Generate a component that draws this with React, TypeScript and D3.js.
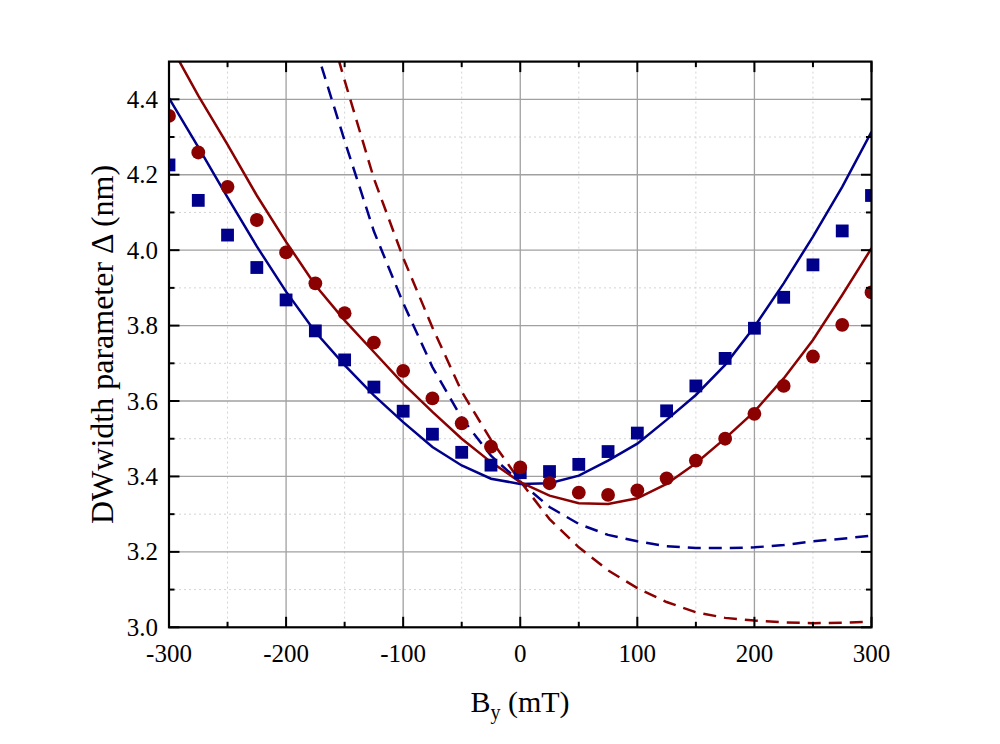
import React from "react";
import * as d3 from "d3";

const fieldB = [-300, -275, -250, -225, -200, -175, -150, -125, -100, -75, -50, -25, 0, 25, 50, 75, 100, 125, 150, 175, 200, 225, 250, 275, 300];
const blueSquares = [4.226, 4.132, 4.040, 3.954, 3.868, 3.786, 3.709, 3.637, 3.573, 3.512, 3.464, 3.430, 3.410, 3.413, 3.432, 3.466, 3.515, 3.574, 3.640, 3.713, 3.793, 3.875, 3.961, 4.051, 4.145];
const redCircles = [4.356, 4.259, 4.168, 4.080, 3.994, 3.912, 3.833, 3.755, 3.680, 3.607, 3.541, 3.479, 3.424, 3.382, 3.357, 3.351, 3.363, 3.395, 3.442, 3.500, 3.566, 3.640, 3.718, 3.802, 3.888];
const blueFit = [4.403, 4.273, 4.140, 4.010, 3.890, 3.783, 3.695, 3.615, 3.544, 3.478, 3.429, 3.394, 3.380, 3.382, 3.402, 3.442, 3.487, 3.550, 3.616, 3.696, 3.797, 3.912, 4.036, 4.168, 4.314];
const redFit = [4.550, 4.410, 4.280, 4.145, 4.022, 3.907, 3.814, 3.730, 3.646, 3.571, 3.500, 3.438, 3.385, 3.349, 3.329, 3.327, 3.342, 3.380, 3.435, 3.501, 3.572, 3.660, 3.762, 3.881, 4.005];

const modelB = [-175, -150, -125, -100, -75, -50, -25, 0, 25, 50, 75, 100, 125, 150, 175, 200, 225, 250, 275, 300];
const blueModel = [4.54, 4.29, 4.05, 3.86, 3.69, 3.555, 3.455, 3.385, 3.319, 3.274, 3.245, 3.228, 3.215, 3.210, 3.210, 3.212, 3.218, 3.228, 3.235, 3.243];
const redModel = [4.72, 4.45, 4.19, 3.98, 3.795, 3.625, 3.497, 3.387, 3.287, 3.212, 3.151, 3.104, 3.067, 3.040, 3.025, 3.018, 3.013, 3.011, 3.012, 3.015];

const xMajor = [-300, -200, -100, 0, 100, 200, 300];
const xMinor = [-250, -150, -50, 50, 150, 250];
const yMajor = [3.0, 3.2, 3.4, 3.6, 3.8, 4.0, 4.2, 4.4];
const yMinor = [3.1, 3.3, 3.5, 3.7, 3.9, 4.1, 4.3];

const BLUE = "#00008B";
const RED = "#8B0000";
const FONT = "'Liberation Serif', 'Times New Roman', serif";

export default function App() {
  const L = 169, R = 871.5, T = 61.6, B = 627.3;
  const x = d3.scaleLinear().domain([-300, 300]).range([L, R]);
  const y = d3.scaleLinear().domain([3.0, 4.5]).range([B, T]);

  const line = d3.line<[number, number]>().x(d => x(d[0])).y(d => y(d[1]));
  const zip = (a: number[], b: number[]) => a.map((v, i) => [v, b[i]] as [number, number]);

  return (
    <div style={{ position: "absolute", left: 0, top: 0 }}>
      <svg width={1000} height={744} style={{ display: "block", background: "#fff" }}>
        <defs>
          <clipPath id="plot">
            <rect x={L} y={T} width={R - L} height={B - T} />
          </clipPath>
        </defs>
        {xMinor.map(v => (
          <line key={"xm" + v} x1={x(v)} x2={x(v)} y1={T} y2={B} stroke="#d4d4d4" strokeWidth={1} strokeDasharray="2,3" />
        ))}
        {yMinor.map(v => (
          <line key={"ym" + v} x1={L} x2={R} y1={y(v)} y2={y(v)} stroke="#d4d4d4" strokeWidth={1} strokeDasharray="2,3" />
        ))}
        {xMajor.slice(1, -1).map(v => (
          <line key={"xg" + v} x1={x(v)} x2={x(v)} y1={T} y2={B} stroke="#a0a0a0" strokeWidth={1.3} />
        ))}
        {yMajor.slice(1).map(v => (
          <line key={"yg" + v} x1={L} x2={R} y1={y(v)} y2={y(v)} stroke="#a0a0a0" strokeWidth={1.3} />
        ))}

        <g clipPath="url(#plot)">
          <path d={line(zip(modelB, blueModel)) || ""} fill="none" stroke={BLUE} strokeWidth={2.5} strokeDasharray="13,8" />
          <path d={line(zip(modelB, redModel)) || ""} fill="none" stroke={RED} strokeWidth={2.5} strokeDasharray="13,8" />
          <path d={line(zip(fieldB, blueFit)) || ""} fill="none" stroke={BLUE} strokeWidth={2.5} />
          <path d={line(zip(fieldB, redFit)) || ""} fill="none" stroke={RED} strokeWidth={2.5} />
          {fieldB.map((b, i) => (
            <rect key={"s" + b} x={x(b) - 6.4} y={y(blueSquares[i]) - 6.4} width={12.8} height={12.8} fill={BLUE} />
          ))}
          {fieldB.map((b, i) => (
            <circle key={"c" + b} cx={x(b)} cy={y(redCircles[i])} r={6.9} fill={RED} />
          ))}
        </g>

        <rect x={L} y={T} width={R - L} height={B - T} fill="none" stroke="#000" strokeWidth={2.2} />
        {xMajor.map(v => (
          <g key={"xt" + v}>
            <line x1={x(v)} x2={x(v)} y1={B} y2={B - 10.5} stroke="#000" strokeWidth={2} />
            <line x1={x(v)} x2={x(v)} y1={T} y2={T + 10.5} stroke="#000" strokeWidth={2} />
          </g>
        ))}
        {xMinor.map(v => (
          <g key={"xtm" + v}>
            <line x1={x(v)} x2={x(v)} y1={B} y2={B - 5.5} stroke="#000" strokeWidth={2} />
            <line x1={x(v)} x2={x(v)} y1={T} y2={T + 5.5} stroke="#000" strokeWidth={2} />
          </g>
        ))}
        {yMajor.map(v => (
          <g key={"yt" + v}>
            <line x1={L} x2={L + 10.5} y1={y(v)} y2={y(v)} stroke="#000" strokeWidth={2} />
            <line x1={R} x2={R - 10.5} y1={y(v)} y2={y(v)} stroke="#000" strokeWidth={2} />
          </g>
        ))}
        {yMinor.map(v => (
          <g key={"ytm" + v}>
            <line x1={L} x2={L + 5.5} y1={y(v)} y2={y(v)} stroke="#000" strokeWidth={2} />
            <line x1={R} x2={R - 5.5} y1={y(v)} y2={y(v)} stroke="#000" strokeWidth={2} />
          </g>
        ))}

        {xMajor.map(v => (
          <text key={"xl" + v} x={x(v)} y={661.5} textAnchor="middle" fontFamily={FONT} fontSize={25} fill="#000">
            {String(v)}
          </text>
        ))}
        {yMajor.map(v => (
          <text key={"yl" + v} x={158} y={y(v) + 8.5} textAnchor="end" fontFamily={FONT} fontSize={25} fill="#000">
            {v.toFixed(1)}
          </text>
        ))}

        <text x={520} y={711.5} textAnchor="middle" fontFamily={FONT} fontSize={30} fill="#000">
          B<tspan fontSize={20} dy={7}>y</tspan><tspan dy={-7}> (mT)</tspan>
        </text>
        <text transform={`translate(113, ${(T + B) / 2}) rotate(-90)`} textAnchor="middle" fontFamily={FONT} fontSize={32} fill="#000">
          DWwidth parameter Δ (nm)
        </text>
      </svg>
    </div>
  );
}
